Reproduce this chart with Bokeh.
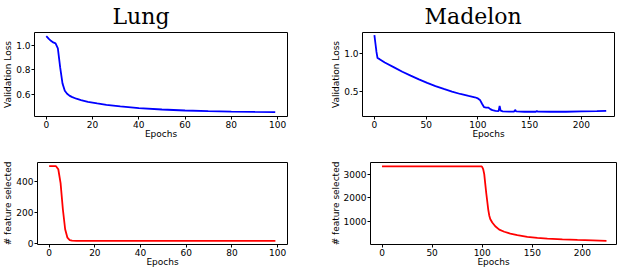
from bokeh.plotting import figure
from bokeh.layouts import column, row
from bokeh.models import Range1d, FixedTicker, Title
from bokeh.embed import file_html
from bokeh.resources import INLINE

# ---- data ----
lung_loss_epochs = [0, 1, 2, 3, 4, 5, 6, 7, 8, 9, 10, 11, 13, 15, 18, 22, 26, 32, 40, 50, 60, 70, 80, 90, 99]
lung_loss = [1.075, 1.055, 1.037, 1.024, 1.016, 0.975, 0.82, 0.69, 0.63, 0.606, 0.59, 0.58, 0.565, 0.554,
             0.54, 0.527, 0.515, 0.503, 0.488, 0.477, 0.469, 0.464, 0.46, 0.457, 0.455]

lung_feat_epochs = [0, 3, 4, 5, 6, 7, 8, 9, 10, 12, 99]
lung_feat = [500, 500, 480, 390, 220, 90, 35, 20, 16, 15, 15]

madelon_loss_epochs = [0, 1, 2, 3, 5, 10, 19, 27, 35, 43, 51, 59, 67, 75, 83, 91, 97, 100, 102, 104, 106,
                       108, 110, 112, 114, 117, 120, 121, 122, 124, 130, 135, 136, 137, 145, 156, 157,
                       158, 170, 185, 200, 215, 224]
madelon_loss = [1.239, 1.13, 1.02, 0.94, 0.925, 0.88, 0.817, 0.76, 0.708, 0.66, 0.613, 0.572, 0.535, 0.5,
                0.468, 0.443, 0.425, 0.41, 0.39, 0.34, 0.295, 0.29, 0.29, 0.27, 0.256, 0.248, 0.244,
                0.31, 0.25, 0.24, 0.238, 0.238, 0.26, 0.24, 0.235, 0.235, 0.245, 0.236, 0.235, 0.235,
                0.24, 0.244, 0.248]

madelon_feat_epochs = [0, 99, 100, 101, 102, 103, 104, 105, 106, 107, 108, 110, 113, 117, 122, 128, 135,
                       145, 155, 165, 180, 195, 210, 224]
madelon_feat = [3330, 3330, 3300, 3200, 3000, 2600, 2200, 1850, 1500, 1250, 1100, 950, 790, 650, 560,
                480, 420, 345, 300, 270, 240, 215, 195, 175]

lung_xticks = [0, 20, 40, 60, 80, 100]
madelon_xticks = [0, 50, 100, 150, 200]
lung_loss_yticks = [0.6, 0.8, 1.0]
madelon_loss_yticks = [0.5, 1.0]
lung_feat_yticks = [0, 200, 400]
madelon_feat_yticks = [1000, 2000, 3000]

titles = ["Lung", "Madelon"]
xlabel = "Epochs"
ylabel_loss = "Validation Loss"
ylabel_feat = "# feature selected"

FONT = "DejaVu Sans"
FS = "9px"


def make(title, xr, yr, xticks, yticks, ylabel, w, h, mbl, mbr, mbt, mbb, yfmt=None, toff=0):
    p = figure(width=w, height=h, x_range=Range1d(*xr), y_range=Range1d(*yr),
               output_backend="svg", toolbar_location=None, title=None,
               min_border_left=mbl, min_border_right=mbr, min_border_top=mbt, min_border_bottom=mbb)
    p.background_fill_color = "white"
    p.border_fill_color = "white"
    p.outline_line_color = "black"
    p.outline_line_width = 1
    p.grid.visible = False
    if title:
        # tiny spacer between frame and title
        p.add_layout(Title(text=" ", text_font_size="2px", standoff=0), "above")
        p.add_layout(Title(text=title, text_font="DejaVu Serif", text_font_size="22px",
                           text_font_style="normal", text_color="black", align="left",
                           offset=toff, standoff=0), "above")
    for ax in (p.xaxis[0], p.yaxis[0]):
        ax.axis_line_color = None
        ax.major_tick_line_color = "black"
        ax.major_tick_out = 3
        ax.major_tick_in = 0
        ax.minor_tick_line_color = None
        ax.major_label_text_font = FONT
        ax.major_label_text_font_size = FS
        ax.major_label_text_color = "black"
        ax.axis_label_text_font = FONT
        ax.axis_label_text_font_size = FS
        ax.axis_label_text_font_style = "normal"
        ax.axis_label_text_color = "black"
        ax.major_label_standoff = 1
        ax.axis_label_standoff = 0
    p.xaxis[0].ticker = FixedTicker(ticks=xticks)
    p.yaxis[0].ticker = FixedTicker(ticks=yticks)
    p.xaxis[0].axis_label = xlabel
    p.yaxis[0].axis_label = ylabel
    p.xaxis[0].axis_label_standoff = -2
    if yfmt:
        p.yaxis[0].major_label_overrides = {t: yfmt.format(t) for t in yticks}
    return p


p1 = make(titles[0], (-5.1, 104.3), (0.42, 1.105), lung_xticks, lung_loss_yticks, ylabel_loss,
          309, 141, 32, 22, 31, 25, yfmt="{:.1f}", toff=78)
p1.line(lung_loss_epochs, lung_loss, line_color="#0000ff", line_width=1.8)

p2 = make(titles[1], (-11.5, 232), (0.173, 1.274), madelon_xticks, madelon_loss_yticks, ylabel_loss,
          309, 141, 53, 4, 32, 25, yfmt="{:.1f}", toff=62)
p2.line(madelon_loss_epochs, madelon_loss, line_color="#0000ff", line_width=1.8)

p3 = make(None, (-5.1, 104.3), (-9, 524), lung_xticks, lung_feat_yticks, ylabel_feat,
          309, 129, 35, 22, 19, 26)
p3.line(lung_feat_epochs, lung_feat, line_color="#ff0000", line_width=1.8)

p4 = make(None, (-11.5, 234), (20, 3490), madelon_xticks, madelon_feat_yticks, ylabel_feat,
          309, 129, 61, 2, 21, 25)
p4.line(madelon_feat_epochs, madelon_feat, line_color="#ff0000", line_width=1.8)

lay = column(row(p1, p2), row(p3, p4))
open("out.html", "w").write(file_html(lay, INLINE))
